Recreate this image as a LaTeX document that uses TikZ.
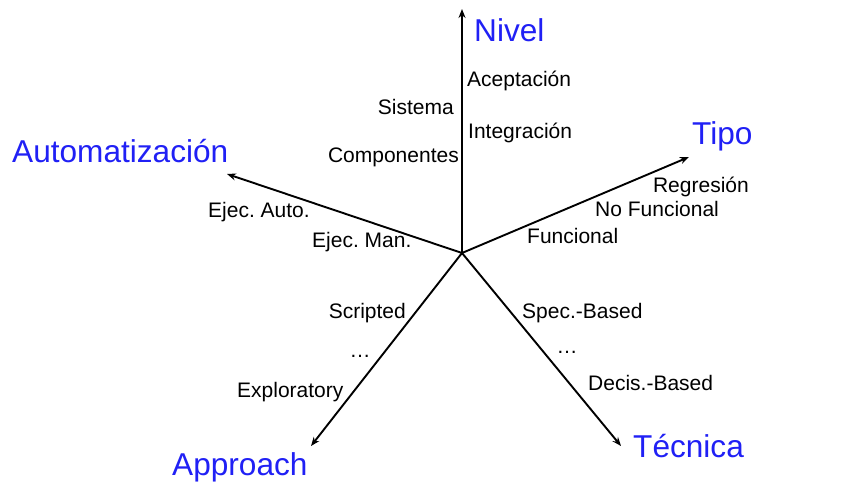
\documentclass[tikz,border=0pt]{standalone}
\usepackage{fontspec}
\setmainfont{Liberation Sans}
\usepackage{tikz}
\usetikzlibrary{arrows.meta}
\definecolor{axisblue}{RGB}{32,32,245}
\frenchspacing

\begin{document}
\begin{tikzpicture}[x=1pt,y=-1pt]
        \tikzstyle{axis} = [line width=1.9pt,-{Stealth[length=9pt,width=7pt]}]
        \tikzstyle{head} = [inner sep=0pt,text=axisblue,font=\fontsize{31.6}{36}\selectfont]
        \tikzstyle{lbl} = [inner sep=0pt,font=\fontsize{21}{25}\selectfont]
        \useasboundingbox (0,0) rectangle (846,492);
        \coordinate (o) at (462,253);
        \coordinate (nivel) at (462,9);
        \coordinate (tipo) at (689,157);
        \coordinate (auto) at (227,174);
        \coordinate (appr) at (311,446);
        \coordinate (tecn) at (621,446);
        \foreach \t in {nivel,tipo,auto,appr,tecn}{
          \draw[axis] (o) -- (\t);
        }
        % axis names
        \node[head,anchor=base west] (hnivel) at (474,42) {Nivel};
        \node[head,anchor=base west] (htipo) at (692,145) {Tipo};
        \node[head,anchor=base west] (hauto) at (12,163) {Automatización};
        \node[head,anchor=base west] (happr) at (172,475) {Approach};
        \node[head,anchor=base west] (htecn) at (633,457) {Técnica};
        % values
        \node[lbl,anchor=base west] (acep) at (467,87) {Aceptación};
        \node[lbl,anchor=base east] (sist) at (454,115) {Sistema};
        \node[lbl,anchor=base west] (integ) at (468,139) {Integración};
        \node[lbl,anchor=base east] (comp) at (459,163) {Componentes};
        \node[lbl,anchor=base east] (regr) at (749,192) {Regresión};
        \node[lbl,anchor=base west] (nofun) at (595,216) {No Funcional};
        \node[lbl,anchor=base west] (fun) at (527,243) {Funcional};
        \node[lbl,anchor=base west] (ejauto) at (208,217) {Ejec. Auto.};
        \node[lbl,anchor=base west] (ejman) at (312,247) {Ejec. Man.};
        \node[lbl,anchor=base east] (scr) at (406,318) {Scripted};
        \node[lbl,anchor=base] (dotsa) at (360,357) {\dots};
        \node[lbl,anchor=base west] (expl) at (237,397) {Exploratory};
        \node[lbl,anchor=base west] (spec) at (522,318) {Spec.-Based};
        \node[lbl,anchor=base] (dotsb) at (567,353) {\dots};
        \node[lbl,anchor=base west] (decis) at (588,390) {Decis.-Based};
      \end{tikzpicture}
\end{document}
